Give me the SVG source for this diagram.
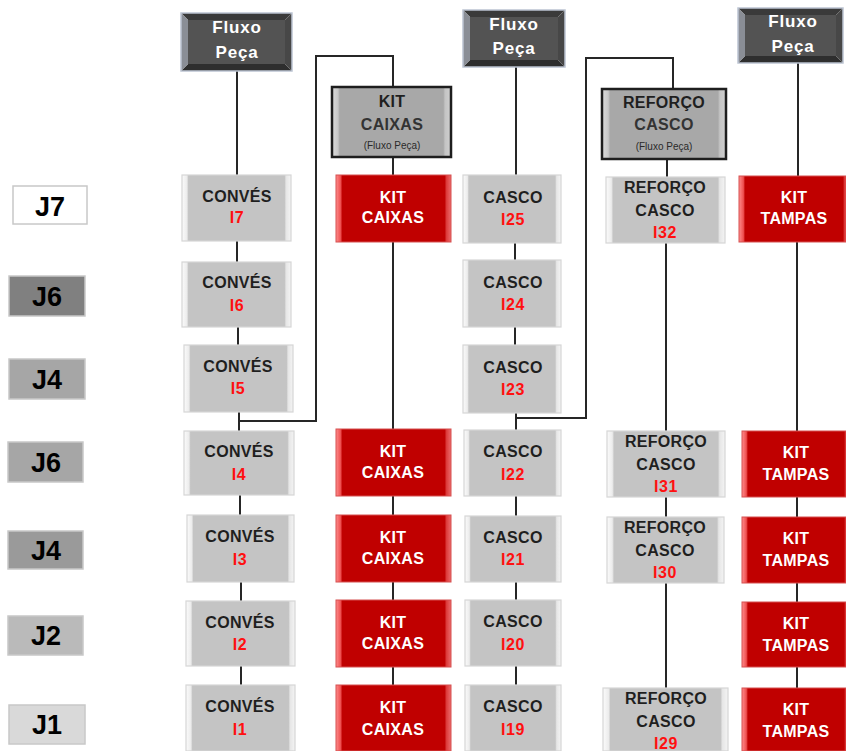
<svg xmlns="http://www.w3.org/2000/svg" width="846" height="751" viewBox="0 0 846 751">
  <defs>
    <linearGradient id="bevelGrey" x1="0" y1="0" x2="1" y2="0">
      <stop offset="0" stop-color="#fbfbfb"/>
      <stop offset="0.045" stop-color="#ececec"/>
      <stop offset="0.06" stop-color="#c4c4c4"/>
      <stop offset="0.94" stop-color="#c4c4c4"/>
      <stop offset="0.955" stop-color="#e6e6e6"/>
      <stop offset="1" stop-color="#f4f4f4"/>
    </linearGradient>
    <linearGradient id="bevelRed" x1="0" y1="0" x2="1" y2="0">
      <stop offset="0" stop-color="#ff8c8c"/>
      <stop offset="0.04" stop-color="#ee5050"/>
      <stop offset="0.055" stop-color="#c00000"/>
      <stop offset="0.945" stop-color="#c00000"/>
      <stop offset="0.96" stop-color="#dc3a3a"/>
      <stop offset="1" stop-color="#ec6a6a"/>
    </linearGradient>
    <linearGradient id="bevelMid" x1="0" y1="0" x2="1" y2="0">
      <stop offset="0" stop-color="#dcdcdc"/>
      <stop offset="0.05" stop-color="#c8c8c8"/>
      <stop offset="0.065" stop-color="#a8a8a8"/>
      <stop offset="0.935" stop-color="#a8a8a8"/>
      <stop offset="0.95" stop-color="#c4c4c4"/>
      <stop offset="1" stop-color="#d0d0d0"/>
    </linearGradient>
  </defs>
  <style>
    .grey rect { fill: url(#bevelGrey); stroke: #d6d6d6; stroke-width: 1.2; }
    .red rect { fill: url(#bevelRed); stroke: #d65050; stroke-width: 1; }
    .group rect { fill: url(#bevelMid); stroke: #1e1e1e; stroke-width: 2.5; }
    .flux .face { fill: #535353; }
    .flux .top { fill: #3a3a3a; }
    .flux .left { fill: #8a8e96; }
    .flux .right { fill: #474747; }
    .flux .bottom { fill: #2e2e2e; }
    .flux .frame { fill: none; stroke: #bcc4d2; stroke-width: 1.5; }
    text { font-family: "Liberation Sans", Arial, sans-serif; font-weight: bold; text-anchor: middle; }
    .dark { font-size: 16px; fill: #1f1f1f; letter-spacing: 0.3px; }
    .num { font-size: 16px; fill: #ff1010; letter-spacing: 0.6px; }
    .white { font-size: 16px; fill: #ffffff; letter-spacing: 0.3px; }
    .fluxo { font-size: 17px; fill: #ffffff; letter-spacing: 0.8px; }
    .small { font-size: 10px; fill: #2a2a2a; font-weight: normal; }
    .lane rect { stroke: #c8c8c8; stroke-width: 1.5; }
    .lane text { font-size: 27px; fill: #000000; }
    .conn path { fill: none; stroke: #262626; stroke-width: 2; }
  </style>

  <!-- shift labels -->
  <g id="lane-j7" class="lane"><rect x="13" y="186" width="74" height="38" fill="#ffffff"/><text x="50" y="216">J7</text></g>
  <g id="lane-j6a" class="lane"><rect x="9" y="276" width="76" height="40" fill="#808080"/><text x="47" y="306">J6</text></g>
  <g id="lane-j4a" class="lane"><rect x="9" y="359" width="76" height="40" fill="#a6a6a6"/><text x="47" y="389">J4</text></g>
  <g id="lane-j6b" class="lane"><rect x="8" y="442" width="75" height="40" fill="#a6a6a6"/><text x="46" y="472">J6</text></g>
  <g id="lane-j4b" class="lane"><rect x="8" y="531" width="75" height="38" fill="#9a9a9a"/><text x="46" y="560">J4</text></g>
  <g id="lane-j2" class="lane"><rect x="8" y="616" width="75" height="39" fill="#bababa"/><text x="46" y="645">J2</text></g>
  <g id="lane-j1" class="lane"><rect x="9" y="705" width="76" height="39" fill="#d9d9d9"/><text x="47" y="734">J1</text></g>

  <!-- connectors -->
  <g id="connectors" class="conn">
    <path d="M237,71 V175 M237,241 V262 M238,327 V345 M239,412 V431 M240,495 V515 M241,582 V601 M241,666 V685"/>
    <path d="M393,87 V56 H316 V421 H239"/>
    <path d="M393,157 V175 M393,242 V429 M393,496 V515 M393,582 V600 M393,667 V685"/>
    <path d="M516,67 V175 M515,243 V260 M515,327 V345 M516,413 V430 M516,496 V516 M516,582 V600 M516,666 V685"/>
    <path d="M673,89 V58 H586 V418 H516"/>
    <path d="M667,159 V177 M666,243 V431 M666,497 V517 M666,583 V688"/>
    <path d="M798,63 V176 M797,242 V431 M797,497 V517 M797,583 V602 M797,667 V688"/>
  </g>

  <!-- piece-flow heads -->
  <g id="fluxo-1" class="flux">
    <rect class="face" x="188" y="20" width="97" height="44"/>
    <polygon class="top" points="181,13 292,13 285,20 188,20"/>
    <polygon class="bottom" points="181,71 292,71 285,64 188,64"/>
    <polygon class="left" points="181,13 188,20 188,64 181,71"/>
    <polygon class="right" points="292,13 285,20 285,64 292,71"/>
    <rect class="frame" x="181" y="13" width="111" height="58"/>
    <text class="fluxo" x="237" y="33">Fluxo</text>
    <text class="fluxo" x="237" y="58">Peça</text>
  </g>
  <g id="fluxo-2" class="flux">
    <rect class="face" x="470" y="17" width="88" height="43"/>
    <polygon class="top" points="463,10 565,10 558,17 470,17"/>
    <polygon class="bottom" points="463,67 565,67 558,60 470,60"/>
    <polygon class="left" points="463,10 470,17 470,60 463,67"/>
    <polygon class="right" points="565,10 558,17 558,60 565,67"/>
    <rect class="frame" x="463" y="10" width="102" height="57"/>
    <text class="fluxo" x="514" y="30">Fluxo</text>
    <text class="fluxo" x="514" y="54">Peça</text>
  </g>
  <g id="fluxo-3" class="flux">
    <rect class="face" x="745" y="15" width="91" height="41"/>
    <polygon class="top" points="738,8 843,8 836,15 745,15"/>
    <polygon class="bottom" points="738,63 843,63 836,56 745,56"/>
    <polygon class="left" points="738,8 745,15 745,56 738,63"/>
    <polygon class="right" points="843,8 836,15 836,56 843,63"/>
    <rect class="frame" x="738" y="8" width="105" height="55"/>
    <text class="fluxo" x="793" y="27">Fluxo</text>
    <text class="fluxo" x="793" y="52">Peça</text>
  </g>

  <!-- grouped flows -->
  <g id="kit-caixas-fluxo" class="group">
    <rect x="332" y="87" width="119" height="70"/>
    <text class="dark" x="392" y="107">KIT</text>
    <text class="dark" x="392" y="130" style="fill:#333">CAIXAS</text>
    <text class="small" x="392" y="149">(Fluxo Peça)</text>
  </g>
  <g id="reforco-casco-fluxo" class="group">
    <rect x="602" y="89" width="124" height="70"/>
    <text class="dark" x="664" y="108">REFORÇO</text>
    <text class="dark" x="664" y="130" style="fill:#333">CASCO</text>
    <text class="small" x="664" y="150">(Fluxo Peça)</text>
  </g>

  <!-- CONVÉS column -->
  <g id="conves-i7" class="grey"><rect x="182" y="175" width="109" height="66"/><text class="dark" x="237" y="202">CONVÉS</text><text class="num" x="237" y="223">I7</text></g>
  <g id="conves-i6" class="grey"><rect x="182" y="262" width="109" height="65"/><text class="dark" x="237" y="288">CONVÉS</text><text class="num" x="237" y="311">I6</text></g>
  <g id="conves-i5" class="grey"><rect x="184" y="345" width="109" height="67"/><text class="dark" x="238" y="372">CONVÉS</text><text class="num" x="238" y="394">I5</text></g>
  <g id="conves-i4" class="grey"><rect x="184" y="431" width="110" height="64"/><text class="dark" x="239" y="457">CONVÉS</text><text class="num" x="239" y="480">I4</text></g>
  <g id="conves-i3" class="grey"><rect x="187" y="515" width="107" height="67"/><text class="dark" x="240" y="542">CONVÉS</text><text class="num" x="240" y="565">I3</text></g>
  <g id="conves-i2" class="grey"><rect x="186" y="601" width="109" height="65"/><text class="dark" x="240" y="628">CONVÉS</text><text class="num" x="240" y="650">I2</text></g>
  <g id="conves-i1" class="grey"><rect x="186" y="685" width="109" height="66"/><text class="dark" x="240" y="712">CONVÉS</text><text class="num" x="240" y="735">I1</text></g>

  <!-- KIT CAIXAS column -->
  <g id="kit-caixas-1" class="red"><rect x="336" y="175" width="115" height="67"/><text class="white" x="393" y="203">KIT</text><text class="white" x="393" y="223">CAIXAS</text></g>
  <g id="kit-caixas-2" class="red"><rect x="336" y="429" width="115" height="67"/><text class="white" x="393" y="457">KIT</text><text class="white" x="393" y="478">CAIXAS</text></g>
  <g id="kit-caixas-3" class="red"><rect x="336" y="515" width="115" height="67"/><text class="white" x="393" y="543">KIT</text><text class="white" x="393" y="564">CAIXAS</text></g>
  <g id="kit-caixas-4" class="red"><rect x="336" y="600" width="115" height="67"/><text class="white" x="393" y="628">KIT</text><text class="white" x="393" y="649">CAIXAS</text></g>
  <g id="kit-caixas-5" class="red"><rect x="336" y="685" width="115" height="66"/><text class="white" x="393" y="713">KIT</text><text class="white" x="393" y="735">CAIXAS</text></g>

  <!-- CASCO column -->
  <g id="casco-i25" class="grey"><rect x="463" y="175" width="98" height="68"/><text class="dark" x="513" y="203">CASCO</text><text class="num" x="513" y="225">I25</text></g>
  <g id="casco-i24" class="grey"><rect x="463" y="260" width="98" height="67"/><text class="dark" x="513" y="288">CASCO</text><text class="num" x="513" y="310">I24</text></g>
  <g id="casco-i23" class="grey"><rect x="463" y="345" width="98" height="68"/><text class="dark" x="513" y="373">CASCO</text><text class="num" x="513" y="395">I23</text></g>
  <g id="casco-i22" class="grey"><rect x="464" y="430" width="97" height="66"/><text class="dark" x="513" y="457">CASCO</text><text class="num" x="513" y="480">I22</text></g>
  <g id="casco-i21" class="grey"><rect x="465" y="516" width="96" height="66"/><text class="dark" x="513" y="543">CASCO</text><text class="num" x="513" y="565">I21</text></g>
  <g id="casco-i20" class="grey"><rect x="465" y="600" width="96" height="66"/><text class="dark" x="513" y="627">CASCO</text><text class="num" x="513" y="650">I20</text></g>
  <g id="casco-i19" class="grey"><rect x="465" y="685" width="96" height="66"/><text class="dark" x="513" y="712">CASCO</text><text class="num" x="513" y="735">I19</text></g>

  <!-- REFORÇO CASCO column -->
  <g id="reforco-i32" class="grey"><rect x="606" y="177" width="119" height="66"/><text class="dark" x="665" y="193">REFORÇO</text><text class="dark" x="665" y="216">CASCO</text><text class="num" x="665" y="238">I32</text></g>
  <g id="reforco-i31" class="grey"><rect x="607" y="431" width="118" height="66"/><text class="dark" x="666" y="447">REFORÇO</text><text class="dark" x="666" y="470">CASCO</text><text class="num" x="666" y="492">I31</text></g>
  <g id="reforco-i30" class="grey"><rect x="607" y="517" width="117" height="66"/><text class="dark" x="665" y="533">REFORÇO</text><text class="dark" x="665" y="556">CASCO</text><text class="num" x="665" y="578">I30</text></g>
  <g id="reforco-i29" class="grey"><rect x="603" y="688" width="125" height="63"/><text class="dark" x="666" y="704">REFORÇO</text><text class="dark" x="666" y="727">CASCO</text><text class="num" x="666" y="749">I29</text></g>

  <!-- KIT TAMPAS column -->
  <g id="kit-tampas-1" class="red"><rect x="739" y="176" width="110" height="66"/><text class="white" x="794" y="203">KIT</text><text class="white" x="794" y="224">TAMPAS</text></g>
  <g id="kit-tampas-2" class="red"><rect x="742" y="431" width="108" height="66"/><text class="white" x="796" y="458">KIT</text><text class="white" x="796" y="480">TAMPAS</text></g>
  <g id="kit-tampas-3" class="red"><rect x="742" y="517" width="108" height="66"/><text class="white" x="796" y="544">KIT</text><text class="white" x="796" y="566">TAMPAS</text></g>
  <g id="kit-tampas-4" class="red"><rect x="742" y="602" width="108" height="65"/><text class="white" x="796" y="629">KIT</text><text class="white" x="796" y="651">TAMPAS</text></g>
  <g id="kit-tampas-5" class="red"><rect x="742" y="688" width="108" height="63"/><text class="white" x="796" y="715">KIT</text><text class="white" x="796" y="737">TAMPAS</text></g>
</svg>
